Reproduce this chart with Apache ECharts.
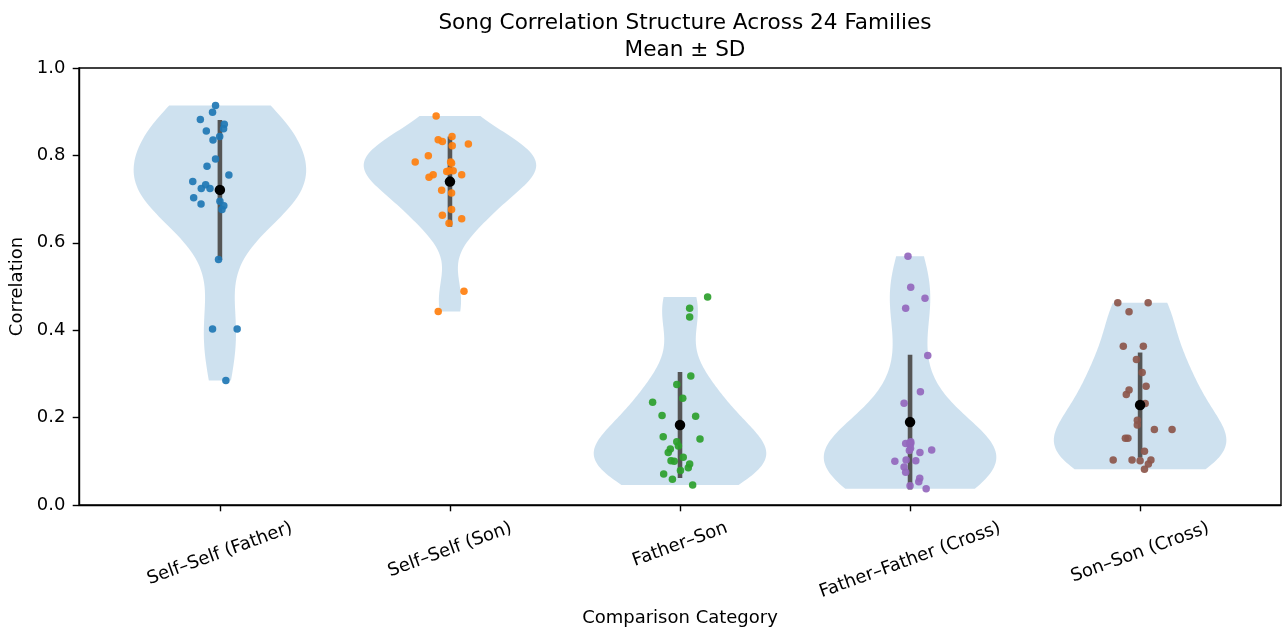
<!DOCTYPE html>
<html>
<head>
<meta charset="utf-8">
<title>Song Correlation Structure</title>
<script src="https://cdn.jsdelivr.net/npm/echarts@6/dist/echarts.min.js"></script>
<style>
  html, body { margin: 0; padding: 0; background: #ffffff; }
  #chart { width: 1283px; height: 627px; }
</style>
</head>
<body>
<div id="chart"></div>
<script>
// Comparison categories (x axis)
const categories = [
  'Self–Self (Father)',
  'Self–Self (Son)',
  'Father–Son',
  'Father–Father (Cross)',
  'Son–Son (Cross)'
];

// Per-family correlation values (24 families per category)
const selfSelfFather = [0.914, 0.899, 0.882, 0.871, 0.861, 0.856, 0.843, 0.835, 0.792, 0.775, 0.755, 0.740,
                        0.733, 0.724, 0.724, 0.703, 0.689, 0.695, 0.685, 0.676, 0.562, 0.403, 0.403, 0.285];
const selfSelfSon    = [0.890, 0.843, 0.836, 0.832, 0.822, 0.826, 0.799, 0.785, 0.782, 0.763, 0.765, 0.756,
                        0.756, 0.750, 0.720, 0.714, 0.676, 0.663, 0.655, 0.645, 0.489, 0.443, 0.785, 0.765];
const fatherSon      = [0.476, 0.450, 0.430, 0.295, 0.276, 0.244, 0.235, 0.205, 0.203, 0.156, 0.151, 0.145,
                        0.135, 0.128, 0.120, 0.109, 0.101, 0.100, 0.094, 0.085, 0.071, 0.059, 0.046, 0.079];
const fatherFatherX  = [0.569, 0.498, 0.473, 0.450, 0.342, 0.259, 0.233, 0.141, 0.141, 0.126, 0.120, 0.100,
                        0.103, 0.101, 0.087, 0.075, 0.061, 0.053, 0.044, 0.037, 0.145, 0.140, 0.130, 0.125];
const sonSonX        = [0.463, 0.463, 0.442, 0.363, 0.363, 0.333, 0.303, 0.272, 0.263, 0.253, 0.232, 0.194,
                        0.183, 0.173, 0.173, 0.153, 0.153, 0.123, 0.103, 0.103, 0.101, 0.103, 0.094, 0.082];

// Horizontal jitter of each family's point (category units)
const jitterSelfFather = [-0.019, -0.032, -0.085, 0.019, 0.016, -0.059, -0.001, -0.030, -0.019, -0.056, 0.039, -0.118,
                          -0.062, -0.081, -0.043, -0.114, -0.082, 0.000, 0.017, 0.009, -0.006, -0.032, 0.075, 0.026];
const jitterSelfSon    = [-0.060, 0.009, -0.051, -0.033, 0.010, 0.080, -0.094, -0.151, 0.007, -0.014, 0.014, 0.051,
                          -0.073, -0.091, -0.036, 0.007, 0.007, -0.033, 0.051, -0.004, 0.061, -0.051, 0.003, -0.003];
const jitterFatherSon  = [0.120, 0.042, 0.042, 0.047, -0.014, 0.012, -0.119, -0.078, 0.068, -0.073, 0.087, -0.014,
                          -0.007, -0.042, -0.051, 0.014, -0.039, -0.025, 0.042, 0.036, -0.071, -0.033, 0.055, 0.002];
const jitterFatherX    = [-0.009, 0.003, 0.065, -0.019, 0.077, 0.045, -0.026, -0.019, 0.003, 0.094, 0.043, -0.066,
                          -0.017, 0.025, -0.026, -0.019, 0.042, 0.038, 0.000, 0.070, 0.003, -0.002, 0.002, -0.003];
const jitterSonX       = [-0.097, 0.035, -0.048, -0.073, 0.014, -0.016, 0.009, 0.026, -0.048, -0.060, 0.022, -0.012,
                          -0.012, 0.062, 0.139, -0.053, -0.064, 0.019, -0.117, -0.035, 0.000, 0.047, 0.036, 0.019];

// Y axis tick labels
const yTickLabels = ['0.0', '0.2', '0.4', '0.6', '0.8', '1.0'];

const groups  = [selfSelfFather, selfSelfSon, fatherSon, fatherFatherX, sonSonX];
const jitters = [jitterSelfFather, jitterSelfSon, jitterFatherSon, jitterFatherX, jitterSonX];

// Styling
const FONT = '"DejaVu Sans", "Liberation Sans", sans-serif';
const pointColors = ['#1f77b4', '#ff7f0e', '#2ca02c', '#9467bd', '#8c564b'];
const violinFill = 'rgba(31,119,180,0.22)';
const VIOLIN_WIDTH = 0.75;
const LABEL_ROT = 20 * Math.PI / 180;
const TICK_FS = 18;
const TITLE_FS = 21.6;
const TICK_LEN = 6.3;
const LINE_W = 1.4;

// Summary statistics
function mean(a) { return a.reduce((s, v) => s + v, 0) / a.length; }
function std(a) { const m = mean(a); return Math.sqrt(a.reduce((s, v) => s + (v - m) * (v - m), 0) / a.length); }
const means = groups.map(mean);
const sds = groups.map(std);

// Gaussian KDE outline (Scott's rule), clipped to the data range
function kdeOutline(vals) {
  const n = vals.length;
  const m = mean(vals);
  const sdS = Math.sqrt(vals.reduce((s, v) => s + (v - m) * (v - m), 0) / (n - 1));
  const bw = sdS * Math.pow(n, -1 / 5);
  const lo = Math.min(...vals), hi = Math.max(...vals);
  const pts = [];
  for (let k = 0; k < 100; k++) {
    const y = lo + (hi - lo) * k / 99;
    let d = 0;
    for (const v of vals) { const z = (y - v) / bw; d += Math.exp(-0.5 * z * z); }
    pts.push({ y: y, d: d });
  }
  const dMax = Math.max(...pts.map(p => p.d));
  return pts.map(p => ({ y: p.y, w: p.d / dMax * VIOLIN_WIDTH / 2 }));
}
const outlines = groups.map(kdeOutline);

// Text width helper for rotated category labels
const measureCtx = document.createElement('canvas').getContext('2d');
measureCtx.font = TICK_FS + 'px ' + FONT;

const chart = echarts.init(document.getElementById('chart'), null, { renderer: 'canvas' });

const series = [];

// Violin bodies
series.push({
  type: 'custom',
  coordinateSystem: 'cartesian2d',
  silent: true,
  clip: false,
  data: categories.map((c, i) => [i, means[i]]),
  renderItem: function (params, api) {
    const i = params.dataIndex;
    const o = outlines[i];
    const pts = [];
    for (let k = 0; k < o.length; k++) pts.push(api.coord([i - o[k].w, o[k].y]));
    for (let k = o.length - 1; k >= 0; k--) pts.push(api.coord([i + o[k].w, o[k].y]));
    return { type: 'polygon', shape: { points: pts }, style: { fill: violinFill, stroke: null } };
  }
});

// Family points
groups.forEach((vals, i) => {
  series.push({
    type: 'scatter',
    name: categories[i],
    symbol: 'circle',
    symbolSize: 7.5,
    silent: true,
    itemStyle: { color: pointColors[i], opacity: 0.92 },
    data: vals.map((v, k) => [i + jitters[i][k], v])
  });
});

// Mean ± SD bars
series.push({
  type: 'custom',
  coordinateSystem: 'cartesian2d',
  silent: true,
  data: categories.map((c, i) => [i, means[i], sds[i]]),
  renderItem: function (params, api) {
    const i = api.value(0), m = api.value(1), s = api.value(2);
    const a = api.coord([i, m - s]), b = api.coord([i, m + s]);
    return {
      type: 'line',
      shape: { x1: a[0], y1: a[1], x2: b[0], y2: b[1] },
      style: { stroke: '#555555', lineWidth: 4.6, lineCap: 'butt' }
    };
  }
});

// Means
series.push({
  type: 'scatter',
  symbol: 'circle',
  symbolSize: 10.5,
  silent: true,
  itemStyle: { color: '#000000', opacity: 1 },
  data: categories.map((c, i) => [i, means[i]])
});

// Rotated category labels under the x axis
series.push({
  type: 'custom',
  coordinateSystem: 'cartesian2d',
  silent: true,
  clip: false,
  data: categories.map((c, i) => [i, 0]),
  renderItem: function (params, api) {
    const i = params.dataIndex;
    const text = categories[i];
    const p = api.coord([i, 0]);
    const w = measureCtx.measureText(text).width;
    const h = TICK_FS * 1.17;
    const boxH = w * Math.sin(LABEL_ROT) + h * Math.cos(LABEL_ROT);
    return {
      type: 'text',
      x: p[0],
      y: p[1] + 2 * TICK_LEN + boxH / 2,
      rotation: LABEL_ROT,
      style: {
        text: text,
        fill: '#000000',
        font: TICK_FS + 'px ' + FONT,
        align: 'center',
        verticalAlign: 'middle'
      }
    };
  }
});

chart.setOption({
  animation: false,
  backgroundColor: '#ffffff',
  title: {
    text: 'Song Correlation Structure Across 24 Families\nMean ± SD',
    left: 680,
    top: 5,
    textAlign: 'center',
    textStyle: {
      fontFamily: FONT,
      fontSize: TITLE_FS,
      fontWeight: 'normal',
      color: '#000000',
      lineHeight: 27
    }
  },
  grid: {
    left: 79, right: 2, top: 68, bottom: 122,
    outerBoundsMode: 'none',
    containLabel: false,
    show: true, borderColor: '#000000', borderWidth: LINE_W, backgroundColor: 'transparent'
  },
  xAxis: {
    type: 'value',
    min: -0.6125,
    max: 4.6125,
    name: 'Comparison Category',
    nameLocation: 'middle',
    nameGap: 104,
    nameTextStyle: { fontFamily: FONT, fontSize: TICK_FS, color: '#000000' },
    splitLine: { show: false },
    axisLine: { show: true, onZero: false, lineStyle: { color: '#000000', width: LINE_W } },
    axisTick: { show: true, customValues: [0, 1, 2, 3, 4], length: TICK_LEN, lineStyle: { color: '#000000', width: LINE_W } },
    axisLabel: { show: false }
  },
  yAxis: {
    type: 'value',
    min: 0,
    max: 1,
    interval: 0.2,
    name: 'Correlation',
    nameLocation: 'middle',
    nameGap: 44,
    nameTextStyle: { fontFamily: FONT, fontSize: TICK_FS, color: '#000000' },
    splitLine: { show: false },
    axisLine: { show: true, onZero: false, lineStyle: { color: '#000000', width: LINE_W } },
    axisTick: { show: true, length: TICK_LEN, lineStyle: { color: '#000000', width: LINE_W } },
    axisLabel: {
      fontFamily: FONT,
      fontSize: TICK_FS,
      color: '#000000',
      margin: 13.5,
      formatter: function (v) { return yTickLabels[Math.round(v / 0.2)]; }
    }
  },
  series: series
});
</script>
</body>
</html>
